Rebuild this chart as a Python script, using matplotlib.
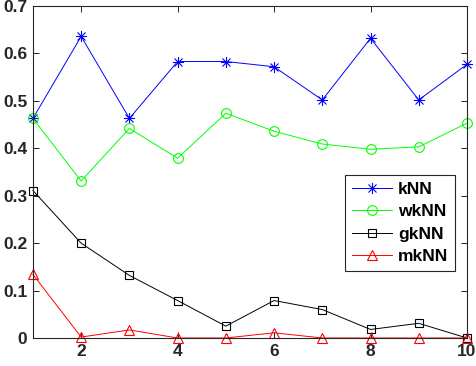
import matplotlib
matplotlib.use("Agg")
import matplotlib.pyplot as plt
from matplotlib.path import Path

x = [1, 2, 3, 4, 5, 6, 7, 8, 9, 10]
knn = [0.463, 0.636, 0.463, 0.583, 0.583, 0.572, 0.502, 0.632, 0.502, 0.577]
wknn = [0.463, 0.331, 0.442, 0.379, 0.474, 0.436, 0.409, 0.398, 0.403, 0.453]
gknn = [0.311, 0.200, 0.132, 0.079, 0.025, 0.079, 0.060, 0.018, 0.031, 0.0]
mknn = [0.134, 0.002, 0.017, 0.0, 0.0, 0.011, 0.0, 0.0, 0.0, 0.0]

# asterisco estilo MATLAB (+ y x superpuestos)
d = 0.72
asterisco = Path(
    [(-1, 0), (1, 0), (0, -1), (0, 1), (-d, -d), (d, d), (-d, d), (d, -d)],
    [Path.MOVETO, Path.LINETO] * 4,
)

series = [
    ("kNN", knn, "#0000ff", asterisco, 8),
    ("wkNN", wknn, "#00ff00", "o", 7),
    ("gkNN", gknn, "#000000", "s", 6),
    ("mkNN", mknn, "#ff0000", "^", 7),
]

plt.rcParams["font.family"] = ["Liberation Sans", "DejaVu Sans"]

fig = plt.figure(figsize=(4.77, 3.66), dpi=100)
ax = fig.add_axes([0.069, 0.0765, 0.910, 0.907])

for nombre, valores, color, marca, tam in series:
    ax.plot(x, valores, color=color, marker=marca, markersize=tam,
            markerfacecolor="none", markeredgecolor=color, linewidth=0.7,
            markeredgewidth=0.8, label=nombre, clip_on=False)

ax.set_xlim(1, 10)
ax.set_ylim(0, 0.7)
ax.set_xticks([2, 4, 6, 8, 10])
ax.set_yticks([0, 0.1, 0.2, 0.3, 0.4, 0.5, 0.6, 0.7])
ax.set_yticklabels(["0", "0.1", "0.2", "0.3", "0.4", "0.5", "0.6", "0.7"])
ax.tick_params(direction="in", top=True, right=True, length=4, width=0.6,
               labelsize=12.5, labelcolor="#262626", pad=4)
for lab in ax.get_xticklabels() + ax.get_yticklabels():
    lab.set_fontweight("bold")
for sp in ax.spines.values():
    sp.set_linewidth(0.8)
    sp.set_color("#262626")

leg = ax.legend(loc="upper right", bbox_to_anchor=(0.973, 0.492), fancybox=False,
                edgecolor="#262626", framealpha=1, handlelength=2.3,
                prop={"weight": "bold", "size": 12.5}, borderpad=0.4,
                labelspacing=0.42, handletextpad=0.35, borderaxespad=0)
leg.get_frame().set_linewidth(0.8)

fig.savefig("out.png", dpi=100)
